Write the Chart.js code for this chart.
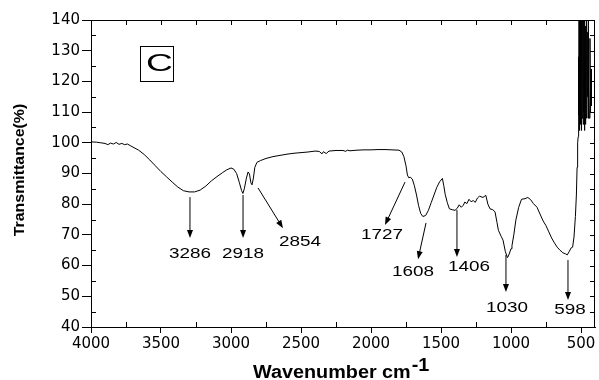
<!DOCTYPE html>
<html>
<head>
<meta charset="utf-8">
<script src="https://cdn.jsdelivr.net/npm/chart.js@4.4.0/dist/chart.umd.min.js"></script>
<style>
  html, body { margin: 0; padding: 0; background: #fff; }
  #wrap { width: 599px; height: 380px; }
</style>
</head>
<body>
<div id="wrap"><canvas id="ftirChart" width="599" height="380"></canvas></div>
<script>
'use strict';

/* --- Spectrum data (wavenumber cm-1, transmittance %) --- */
const wavenumbers = [
  4000, 3960, 3930, 3900, 3880, 3860, 3840, 3820, 3800, 3780, 3760, 3740, 3720, 3700,
  3660, 3620, 3580, 3540, 3500, 3460, 3420, 3380, 3340, 3300, 3260, 3220, 3180, 3140,
  3100, 3060, 3030, 3000, 2980, 2960, 2940, 2925, 2915, 2905, 2890, 2878, 2868, 2858,
  2850, 2840, 2830, 2815, 2790, 2750, 2700, 2650, 2600, 2550, 2500, 2450, 2400, 2370,
  2350, 2340, 2320, 2300, 2250, 2200, 2180, 2170, 2150, 2100, 2050, 2000, 1950, 1900,
  1850, 1800, 1780, 1765, 1750, 1740, 1730, 1720, 1705, 1690, 1675, 1660, 1645, 1630,
  1610, 1590, 1570, 1550, 1530, 1510, 1490, 1480, 1470, 1455, 1440, 1420, 1400, 1385,
  1370, 1355, 1340, 1330, 1315, 1300, 1285, 1270, 1255, 1240, 1225, 1200, 1180, 1165,
  1150, 1130, 1114, 1100, 1090, 1070, 1057, 1040, 1025, 1015, 1000, 993, 980, 965,
  945, 925, 900, 880, 860, 840, 814, 790, 770, 750, 730, 710, 690, 670, 650, 630,
  610, 598, 585, 570, 560, 550, 540, 533, 528, 524,
  520, 518, 516, 514, 512, 510, 508, 506, 504, 502, 500, 498, 496, 494, 492, 490,
  488, 486, 484, 482, 480, 478, 476, 474, 472, 470, 468, 466, 464, 462, 460, 458,
  455, 452, 450, 448, 445, 440, 436, 432, 428, 425
];
const transmittance = [
  100.3, 100.2, 100.0, 99.8, 99.4, 99.9, 99.6, 100.1, 99.5, 99.8, 99.4, 99.6, 99.1, 98.6,
  97.6, 96.2, 94.4, 92.5, 90.6, 88.9, 87.2, 85.6, 84.4, 84.0, 84.0, 84.6, 85.9, 87.6,
  89.0, 90.3, 91.2, 91.8, 91.4, 90.0, 87.0, 84.5, 83.5, 85.0, 88.5, 90.5, 89.8, 87.0,
  86.3, 88.5, 92.0, 93.6, 94.2, 94.9, 95.5, 95.9, 96.3, 96.6, 96.8, 97.0, 97.3, 97.2,
  96.4, 97.1, 96.5, 97.3, 97.5, 97.5, 97.2, 97.6, 97.4, 97.6, 97.7, 97.7, 97.8, 97.8,
  97.7, 97.6, 97.0, 95.5, 92.5, 89.5, 88.6, 88.8, 88.2, 86.0, 83.0, 79.5, 77.0, 76.0,
  76.3, 78.0, 80.5, 83.0, 85.5, 87.3, 88.4, 86.0, 83.2, 80.5, 78.5, 78.2, 78.0, 78.6,
  79.8, 79.0, 79.7, 80.7, 80.2, 81.6, 80.8, 81.2, 80.6, 82.0, 82.6, 82.2, 82.9, 80.0,
  78.5, 78.2, 77.5, 74.0, 71.5, 69.5, 68.3, 64.5, 62.6, 63.5, 65.5, 66.5, 70.0, 74.9,
  79.0, 81.6, 81.8, 82.2, 81.5, 80.2, 79.0, 76.5, 74.5, 73.0, 71.0, 69.0, 67.4, 66.0,
  65.0, 64.2, 63.8, 63.5, 64.5, 65.8, 66.0, 69.3, 76.0, 83.0, 92.0, 100.0,
  102, 128, 109, 141, 104, 138, 110, 142, 106, 135, 112, 142, 104, 130, 108, 142,
  112, 125, 106, 140, 110, 122, 104, 142, 112, 128, 106, 138, 110, 124, 108, 142,
  115, 136, 108, 142, 118, 108, 134, 110, 124, 112
];

/* --- Axis settings --- */
const xRange = [400, 4000];
const yRange = [40, 140];
const xTickValues = [4000, 3500, 3000, 2500, 2000, 1500, 1000, 500];
const xStep = 500;
const yStep = 10;

/* --- Peak annotations: label, arrow start, arrow end, label position (data units) --- */
const peakLabels = ['3286', '2918', '2854', '1727', '1608', '1406', '1030', '598'];
const arrowFrom = [[3293, 82.3], [2914, 83.0], [2807, 85.3], [1757, 87.2], [1607, 73.9], [1386, 78.1], [1036, 63.5], [593, 61.8]];
const arrowTo = [[3293, 69.0], [2914, 69.0], [2629, 72.2], [1900, 73.2], [1664, 62.1], [1386, 62.8], [1036, 51.4], [593, 48.8]];
const labelAt = [[3293, 63.6], [2914, 63.8], [2507, 67.8], [1921, 69.8], [1700, 57.8], [1300, 59.4], [1029, 46.2], [579, 45.5]];

/* --- Panel tag box (data units) --- */
const panelTag = 'C';
const panelBox = [3650, 131.5, 3414, 120.1];

/* --- Helpers --- */
function drawArrow(ctx, x1, y1, x2, y2) {
  const ang = Math.atan2(y2 - y1, x2 - x1);
  const len = 8, half = 3;
  ctx.beginPath();
  ctx.moveTo(x1, y1);
  ctx.lineTo(x2 - Math.cos(ang) * len * 0.8, y2 - Math.sin(ang) * len * 0.8);
  ctx.stroke();
  ctx.beginPath();
  ctx.moveTo(x2, y2);
  ctx.lineTo(x2 - Math.cos(ang) * len - Math.sin(ang) * half, y2 - Math.sin(ang) * len + Math.cos(ang) * half);
  ctx.lineTo(x2 - Math.cos(ang) * len + Math.sin(ang) * half, y2 - Math.sin(ang) * len - Math.cos(ang) * half);
  ctx.closePath();
  ctx.fill();
}

function stretchText(ctx, text, x, y, sx) {
  ctx.save();
  ctx.translate(x, y);
  ctx.scale(sx, 1);
  ctx.fillText(text, 0, 0);
  ctx.restore();
}

/* --- Frame, minor ticks, annotations, titles --- */
const framePlugin = {
  id: 'frame',
  afterDraw(chart) {
    const { ctx, chartArea: a, scales: { x, y } } = chart;
    ctx.save();
    ctx.strokeStyle = '#000';
    ctx.fillStyle = '#000';
    ctx.lineWidth = 1;

    // top + right border
    ctx.beginPath();
    ctx.moveTo(a.left, a.top + 0.5);
    ctx.lineTo(a.right - 0.5, a.top + 0.5);
    ctx.lineTo(a.right - 0.5, a.bottom);
    ctx.stroke();

    // inward ticks
    ctx.beginPath();
    for (let v = 500; v <= xRange[1]; v += xStep / 2) {
      const px = Math.round(x.getPixelForValue(v)) + 0.5;
      if (v % xStep !== 0) { ctx.moveTo(px, a.bottom); ctx.lineTo(px, a.bottom - 5); }
      ctx.moveTo(px, a.top); ctx.lineTo(px, a.top + 5);
    }
    for (let v = yRange[0]; v <= yRange[1]; v += yStep / 2) {
      const py = Math.round(y.getPixelForValue(v)) + 0.5;
      if (v % yStep !== 0) { ctx.moveTo(a.left, py); ctx.lineTo(a.left + 5, py); }
      ctx.moveTo(a.right, py); ctx.lineTo(a.right - 5, py);
    }
    ctx.stroke();

    // panel tag
    const bx1 = x.getPixelForValue(panelBox[0]), by1 = y.getPixelForValue(panelBox[1]);
    const bx2 = x.getPixelForValue(panelBox[2]), by2 = y.getPixelForValue(panelBox[3]);
    ctx.strokeRect(Math.round(bx1) + 0.5, Math.round(by1) + 0.5, Math.round(bx2 - bx1), Math.round(by2 - by1));
    ctx.font = '24px "Liberation Sans", Arial, sans-serif';
    ctx.textAlign = 'center';
    ctx.textBaseline = 'middle';
    stretchText(ctx, panelTag, (bx1 + bx2) / 2 + 3, (by1 + by2) / 2 + 1, 1.55);

    // peak arrows + labels
    ctx.font = '14px "Liberation Sans", Arial, sans-serif';
    peakLabels.forEach((lab, i) => {
      drawArrow(ctx,
        x.getPixelForValue(arrowFrom[i][0]), y.getPixelForValue(arrowFrom[i][1]),
        x.getPixelForValue(arrowTo[i][0]), y.getPixelForValue(arrowTo[i][1]));
      stretchText(ctx, lab, x.getPixelForValue(labelAt[i][0]), y.getPixelForValue(labelAt[i][1]), 1.35);
    });

    // axis titles
    ctx.font = 'bold 18px "Liberation Sans", Arial, sans-serif';
    ctx.textAlign = 'left';
    ctx.textBaseline = 'alphabetic';
    const main = 'Wavenumber cm';
    const w = ctx.measureText(main).width * 1.1;
    stretchText(ctx, main, 253, 378, 1.1);
    stretchText(ctx, '-1', 253 + w + 1, 371, 1.1);

    ctx.save();
    ctx.translate(20, 170);
    ctx.rotate(-Math.PI / 2);
    ctx.font = 'bold 15px "Liberation Sans", Arial, sans-serif';
    ctx.textAlign = 'center';
    ctx.textBaseline = 'middle';
    ctx.scale(1.06, 1);
    ctx.fillText('Transmittance(%)', 0, 0);
    ctx.restore();

    ctx.restore();
  }
};

const tickFont = { family: '"DejaVu Sans", sans-serif', size: 15 };

new Chart(document.getElementById('ftirChart'), {
  type: 'line',
  data: {
    datasets: [{
      data: wavenumbers.map((v, i) => ({ x: v, y: transmittance[i] })),
      borderColor: '#000',
      borderWidth: 1,
      pointRadius: 0,
      tension: 0,
      fill: false
    }]
  },
  options: {
    responsive: false,
    animation: false,
    devicePixelRatio: 1,
    layout: { padding: { top: 20, right: 4, left: 0, bottom: 0 } },
    plugins: { legend: { display: false }, tooltip: { enabled: false } },
    scales: {
      x: {
        type: 'linear',
        reverse: true,
        min: xRange[0], max: xRange[1],
        afterBuildTicks: s => { s.ticks = xTickValues.map(v => ({ value: v })); },
        afterFit: s => { s.height = 53; },
        ticks: { font: tickFont, color: '#000', padding: 2, maxRotation: 0, autoSkip: false, callback: v => String(v) },
        grid: { drawOnChartArea: false, drawTicks: true, tickLength: 6, tickColor: '#000', color: '#000' },
        border: { display: true, color: '#000', width: 1 }
      },
      y: {
        min: yRange[0], max: yRange[1],
        afterFit: s => { s.width = 91; },
        ticks: { stepSize: yStep, font: tickFont, color: '#000', padding: 2 },
        grid: { drawOnChartArea: false, drawTicks: true, tickLength: 9, tickColor: '#000', color: '#000' },
        border: { display: true, color: '#000', width: 1 }
      }
    }
  },
  plugins: [framePlugin]
});
</script>
</body>
</html>
